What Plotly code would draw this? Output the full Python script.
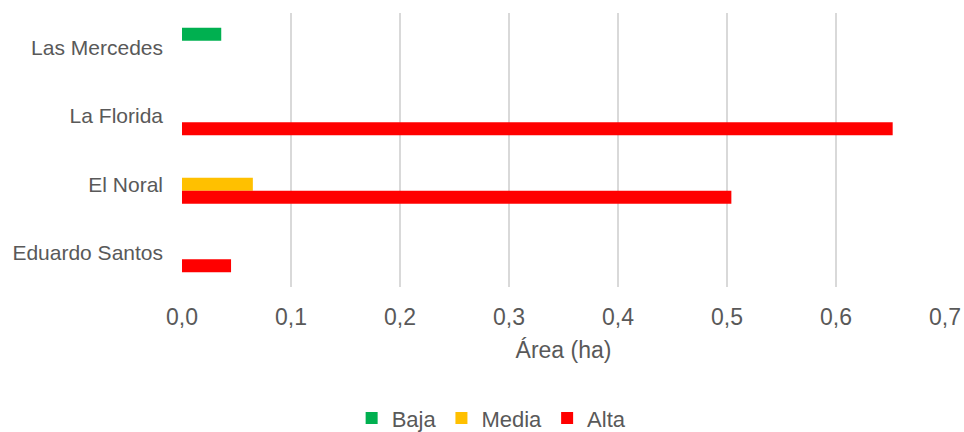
import plotly.graph_objects as go

categories = ["Las Mercedes", "La Florida", "El Noral", "Eduardo Santos"]
baja = [0.036, None, None, None]
media = [None, None, 0.065, None]
alta = [None, 0.652, 0.504, 0.045]
x_ticks = [0, 0.1, 0.2, 0.3, 0.4, 0.5, 0.6, 0.7]

series = [("Baja", baja, "#00B050"), ("Media", media, "#FFC000"), ("Alta", alta, "#FF0000")]

fig = go.Figure()
for name, vals, col in series:
    fig.add_trace(go.Bar(y=categories, x=vals, name=name, orientation="h",
                         marker=dict(color=col, line=dict(width=0))))

fig.update_layout(
    width=964, height=432,
    margin=dict(l=182, r=19, t=13, b=145),
    barmode="group", bargap=0.43, bargroupgap=0,
    separators=",.",
    paper_bgcolor="white", plot_bgcolor="white",
    font=dict(family="Liberation Sans, Arial, sans-serif", color="#595959"),
    xaxis=dict(range=[0, 0.7], tickvals=x_ticks, tickformat=".1f", automargin=False,
               showgrid=True, gridcolor="#D9D9D9", gridwidth=2, zeroline=False,
               ticks="", ticklabelstandoff=14, tickfont=dict(size=23, color="#595959"),
               title=dict(text="Área (ha)", font=dict(size=23, color="#595959"), standoff=12)),
    yaxis=dict(autorange="reversed", showgrid=False, ticks="", ticklabelstandoff=18,
               automargin=False,
               tickfont=dict(size=21, color="#595959"), showline=False),
    legend=dict(orientation="h", xref="container", yref="container",
                x=0.51, xanchor="center", y=0.032, yanchor="middle",
                font=dict(size=22, color="#595959"), traceorder="normal",
                itemwidth=30),
    showlegend=True,
)

fig.write_html("out.html")
